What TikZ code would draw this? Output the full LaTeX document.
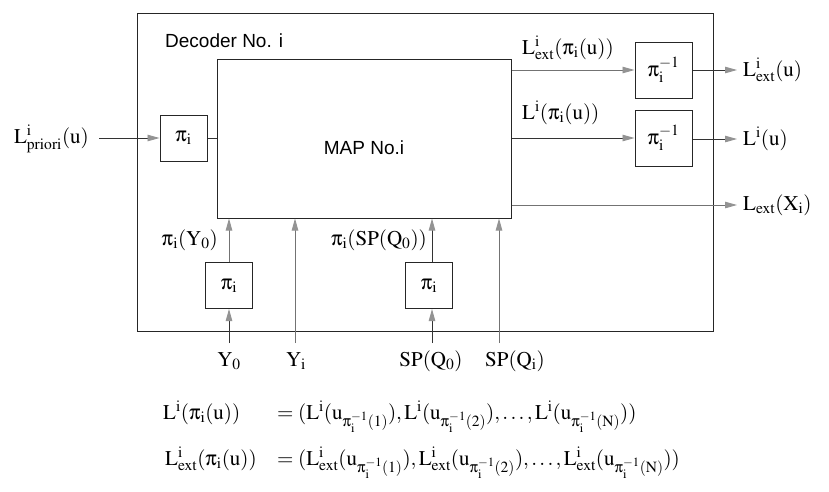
\documentclass[tikz,border=0pt]{standalone}
\usepackage{mathptmx}
\usepackage[Symbol]{upgreek}
\usepackage[no-math]{fontspec}
\setsansfont{Liberation Sans}
\usetikzlibrary{arrows.meta}
\newcommand\myLi{\mathrm{L}^{\mathrm{i}}}
\newcommand\myLext{\mathrm{L}^{\mathrm{i}}_{\mathrm{ext}}}
\newcommand\mypii{\uppi_{\mathrm{i}}}
\newcommand\mypinv{\uppi_{\mathrm{i}}^{-1}}
\newcommand\myu{\mathrm{u}}
\begin{document}
\begin{tikzpicture}[x=1pt,y=-1pt,
  box/.style={draw=black!85, line width=1pt, inner sep=0pt},
  pbox/.style={box, minimum width=47pt, minimum height=46pt, font=\fontsize{21pt}{24pt}\selectfont},
  ibox/.style={box, minimum width=57pt, minimum height=56pt, font=\fontsize{21pt}{24pt}\selectfont},
  lab/.style={inner sep=0pt, font=\fontsize{21pt}{24pt}\selectfont},
  sf/.style={inner sep=0pt, font=\sffamily\fontsize{19pt}{22pt}\selectfont},
  conn/.style={draw=black!80, line width=0.9pt},
  arr/.style={conn, -{Triangle[length=12pt,width=6.5pt,fill=gray!85,color=gray!85]}},
  garr/.style={arr, draw=gray!90!black}]
\useasboundingbox (0,0) rectangle (829,491);
% frame
\draw[box] (137,13) rectangle (713,331);
\node[sf, anchor=base west] (declab) at (165,47) {Decoder No. i};
% boxes
\node[box, font=\sffamily\fontsize{19pt}{22pt}\selectfont, text height=31pt, text depth=0pt,
      minimum width=294pt, minimum height=159pt] (map) at (364,138.5) {MAP No.i};
\node[pbox] (pl) at (183.5,138) {$\mypii$};
\node[ibox] (pinvA) at (663.5,70) {$\mypinv$};
\node[ibox] (pinvB) at (663.5,138) {$\mypinv$};
\node[pbox] (pY) at (229,285.5) {$\mypii$};
\node[pbox] (pS) at (429,285.5) {$\mypii$};
% input
\node[lab, anchor=base east] (lpri) at (89,143) {$\mathrm{L}^{\mathrm{i}}_{\mathrm{priori}}(\myu)$};
\draw[arr] ([xshift=10pt]lpri.east |- pl.west) -- (pl.west);
\draw[conn] (pl.east) -- (pl.east -| map.west);
% outputs
\node[lab, anchor=base west] (oA) at (743,76) {$\myLext(\myu)$};
\node[lab, anchor=base west] (oB) at (743,145) {$\myLi(\myu)$};
\node[lab, anchor=base west] (oC) at (743,210) {$\mathrm{L}_{\mathrm{ext}}(\mathrm{X}_{\mathrm{i}})$};
\coordinate (tA) at (737,70);
\coordinate (tB) at (737,139);
\coordinate (tC) at (737,205);
\draw[garr] (map.east |- pinvA) -- (pinvA.west);
\draw[arr] (map.east |- pinvB) -- (pinvB.west);
\draw[arr] (pinvA.east) -- (tA);
\draw[arr] (pinvB.east |- tB) -- (tB);
\draw[garr] (map.east |- tC) -- (tC);
\node[lab, anchor=base west] (lA) at (522,54) {$\myLext(\mypii(\myu))$};
\node[lab, anchor=base west] (lB) at (522,119) {$\myLi(\mypii(\myu))$};
% bottom inputs
\coordinate (y0b) at (229,343);
\coordinate (yib) at (295,343);
\coordinate (s0b) at (432,343);
\coordinate (sib) at (499,343);
\node[lab, anchor=base] (y0) at (229,366) {$\mathrm{Y}_0$};
\node[lab, anchor=base] (yi) at (296,366) {$\mathrm{Y}_{\mathrm{i}}$};
\node[lab, anchor=base] (s0) at (431,366) {$\mathrm{SP}(\mathrm{Q}_0)$};
\node[lab, anchor=base] (si) at (515,366) {$\mathrm{SP}(\mathrm{Q}_{\mathrm{i}})$};
\draw[arr] (y0b) -- (pY.south);
\draw[garr] (pY.north) -- (pY.north |- map.south);
\draw[garr] (yib) -- (yib |- map.south);
\draw[arr] (s0b) -- (s0b |- pS.south);
\draw[arr] (s0b |- pS.north) -- (s0b |- map.south);
\draw[garr] (sib) -- (sib |- map.south);
\node[lab, anchor=base east] (lY) at (218,245) {$\mypii(\mathrm{Y}_0)$};
\node[lab, anchor=base east] (lS) at (427,245) {$\mypii(\mathrm{SP}(\mathrm{Q}_0))$};
% equations
\node[lab, anchor=base west] (eq1l) at (163,419) {$\myLi(\mypii(\myu))$};
\node[lab, anchor=base west] (eq1r) at (277,419) {$=(\myLi(\myu_{\mypinv(1)}),\myLi(\myu_{\mypinv(2)}),\ldots,\myLi(\myu_{\mypinv(\mathrm{N})}))$};
\node[lab, anchor=base west] (eq2l) at (165,465) {$\myLext(\mypii(\myu))$};
\node[lab, anchor=base west] (eq2r) at (277,465) {$=(\myLext(\myu_{\mypinv(1)}),\myLext(\myu_{\mypinv(2)}),\ldots,\myLext(\myu_{\mypinv(\mathrm{N})}))$};
\end{tikzpicture}
\end{document}
